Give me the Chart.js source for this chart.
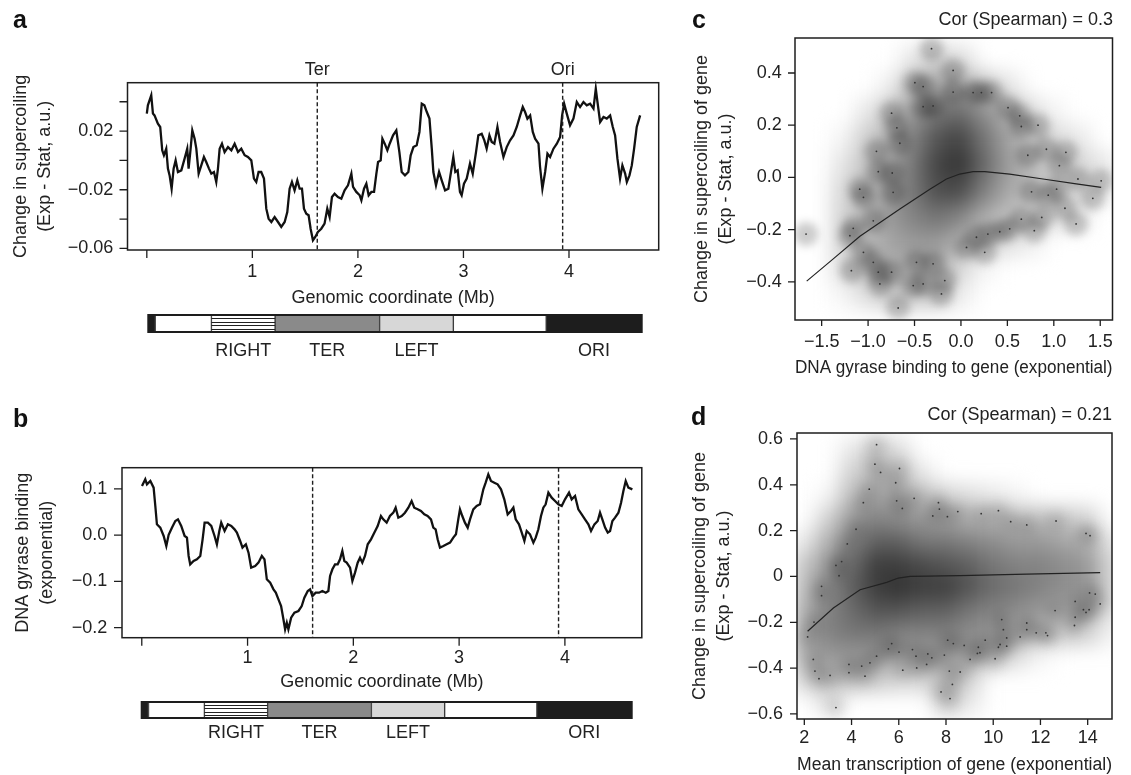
<!DOCTYPE html>
<html><head><meta charset="utf-8">
<script src="https://cdn.jsdelivr.net/npm/chart.js@4.4.1/dist/chart.umd.min.js"></script>
<style>
html,body{margin:0;padding:0;background:#fff;}
#fig{position:relative;width:1131px;height:775px;overflow:hidden;background:#fff;}
canvas{position:absolute;}
.pl{position:absolute;font:bold 25px 'Liberation Sans',Arial,sans-serif;line-height:25px;color:#111;}
</style></head><body>
<div id="fig">
<canvas id="cA" width="680" height="310" style="left:0;top:0"></canvas>
<canvas id="cAbar" width="510" height="70" style="left:140px;top:305px"></canvas>
<canvas id="cB" width="680" height="324" style="left:0;top:370px"></canvas>
<canvas id="cBbar" width="505" height="60" style="left:134px;top:692px"></canvas>
<canvas id="cC" width="451" height="380" style="left:680px;top:0"></canvas>
<canvas id="cD" width="451" height="387" style="left:680px;top:390px"></canvas>
<div class="pl" style="left:13px;top:7px">a</div>
<div class="pl" style="left:13px;top:406px">b</div>
<div class="pl" style="left:692px;top:7px">c</div>
<div class="pl" style="left:691px;top:404px">d</div>
</div>
<script>
// ---------------- DATA ----------------
// Panel a: change in supercoiling along the genome (Mb, value)
const aPos = [0.000,0.010,0.042,0.058,0.073,0.105,0.127,0.146,0.162,0.184,0.200,0.216,0.235,0.254,0.273,0.295,0.327,0.358,0.383,0.396,0.415,0.431,0.453,0.469,0.491,0.516,0.541,0.563,0.589,0.611,0.636,0.658,0.674,0.690,0.712,0.737,0.769,0.801,0.832,0.864,0.895,0.927,0.958,0.990,1.015,1.037,1.059,1.084,1.110,1.132,1.154,1.180,1.211,1.243,1.274,1.306,1.331,1.353,1.375,1.400,1.426,1.448,1.470,1.489,1.511,1.533,1.552,1.574,1.596,1.621,1.653,1.684,1.710,1.732,1.754,1.779,1.811,1.843,1.874,1.906,1.938,1.954,1.985,2.017,2.033,2.058,2.080,2.102,2.128,2.153,2.175,2.191,2.216,2.232,2.254,2.279,2.301,2.333,2.364,2.393,2.415,2.446,2.478,2.500,2.526,2.557,2.583,2.605,2.630,2.653,2.678,2.700,2.715,2.740,2.769,2.794,2.826,2.857,2.882,2.904,2.923,2.945,2.967,2.983,3.005,3.031,3.062,3.088,3.119,3.141,3.173,3.198,3.220,3.246,3.268,3.293,3.322,3.347,3.379,3.410,3.442,3.474,3.505,3.537,3.562,3.584,3.606,3.632,3.657,3.679,3.711,3.726,3.748,3.774,3.796,3.821,3.853,3.885,3.916,3.935,3.954,3.979,4.010,4.042,4.074,4.105,4.137,4.168,4.200,4.232,4.254,4.270,4.295,4.327,4.358,4.390,4.415,4.437,4.459,4.484,4.506,4.532,4.548,4.573,4.595,4.617,4.642,4.674];
const aVal = [0.0319,0.0376,0.0444,0.0319,0.0307,0.0251,0.0228,0.0069,0.0035,0.0080,-0.0056,-0.0102,-0.0193,-0.0056,0.0000,-0.0079,-0.0068,0.0012,0.0080,-0.0056,0.0080,0.0205,0.0148,0.0080,-0.0090,-0.0034,0.0023,-0.0011,-0.0056,-0.0090,-0.0079,-0.0147,-0.0056,0.0080,0.0114,0.0057,0.0091,0.0069,0.0114,0.0057,0.0080,0.0035,0.0023,0.0000,-0.0124,-0.0147,-0.0079,-0.0079,-0.0124,-0.0329,-0.0397,-0.0420,-0.0386,-0.0420,-0.0454,-0.0420,-0.0352,-0.0193,-0.0147,-0.0204,-0.0136,-0.0193,-0.0193,-0.0329,-0.0363,-0.0374,-0.0466,-0.0545,-0.0522,-0.0488,-0.0466,-0.0431,-0.0329,-0.0386,-0.0250,-0.0227,-0.0250,-0.0261,-0.0204,-0.0170,-0.0090,-0.0181,-0.0215,-0.0238,-0.0272,-0.0193,-0.0159,-0.0238,-0.0215,-0.0215,-0.0090,-0.0011,0.0000,0.0148,0.0114,0.0069,0.0114,0.0171,0.0205,0.0057,-0.0079,-0.0102,-0.0079,0.0035,0.0091,0.0103,0.0194,0.0387,0.0376,0.0330,0.0285,0.0080,-0.0079,-0.0170,-0.0079,-0.0136,-0.0204,-0.0193,-0.0079,0.0023,-0.0079,-0.0068,-0.0215,-0.0238,-0.0159,-0.0124,-0.0022,-0.0090,0.0057,0.0171,0.0182,0.0137,0.0080,0.0171,0.0126,0.0114,0.0228,0.0126,0.0023,0.0091,0.0137,0.0171,0.0228,0.0307,0.0364,0.0330,0.0285,0.0307,0.0194,0.0148,0.0114,-0.0045,-0.0193,-0.0079,0.0046,0.0023,0.0080,0.0114,0.0160,0.0307,0.0387,0.0319,0.0239,0.0285,0.0398,0.0364,0.0398,0.0376,0.0387,0.0353,0.0489,0.0398,0.0262,0.0296,0.0285,0.0307,0.0228,0.0171,0.0012,-0.0124,-0.0034,-0.0090,-0.0147,-0.0102,-0.0034,0.0080,0.0228,0.0307];
// Panel b: DNA gyrase binding along the genome (Mb, value)
const bPos = [0.002,0.033,0.049,0.081,0.112,0.128,0.143,0.175,0.207,0.232,0.254,0.285,0.317,0.342,0.373,0.405,0.427,0.443,0.458,0.490,0.521,0.553,0.575,0.594,0.625,0.657,0.688,0.710,0.733,0.751,0.783,0.814,0.846,0.877,0.899,0.930,0.952,0.984,1.009,1.034,1.072,1.103,1.135,1.160,1.182,1.214,1.245,1.267,1.292,1.317,1.339,1.355,1.371,1.386,1.412,1.443,1.481,1.512,1.537,1.569,1.591,1.613,1.644,1.676,1.707,1.739,1.764,1.780,1.802,1.827,1.852,1.874,1.896,1.915,1.937,1.969,1.991,2.016,2.041,2.063,2.085,2.110,2.136,2.167,2.198,2.230,2.261,2.283,2.315,2.346,2.378,2.400,2.425,2.457,2.488,2.520,2.551,2.576,2.608,2.639,2.671,2.702,2.734,2.756,2.778,2.797,2.819,2.851,2.882,2.914,2.945,2.970,2.992,3.008,3.030,3.055,3.081,3.103,3.134,3.166,3.197,3.229,3.251,3.276,3.301,3.333,3.364,3.396,3.427,3.459,3.490,3.513,3.535,3.566,3.592,3.617,3.639,3.670,3.702,3.724,3.749,3.774,3.796,3.818,3.844,3.875,3.907,3.938,3.970,4.001,4.039,4.064,4.096,4.127,4.159,4.190,4.222,4.247,4.279,4.310,4.332,4.354,4.380,4.405,4.427,4.449,4.474,4.506,4.531,4.553,4.575,4.600,4.638];
const bVal = [0.1064,0.1208,0.1100,0.1172,0.1028,0.0631,0.0234,0.0162,-0.0018,-0.0235,0.0006,0.0162,0.0306,0.0342,0.0198,-0.0018,-0.0054,-0.0451,-0.0632,-0.0560,-0.0524,-0.0451,-0.0090,0.0270,0.0270,0.0198,-0.0018,-0.0198,0.0090,0.0270,0.0090,0.0234,0.0198,0.0126,0.0054,-0.0126,-0.0270,-0.0198,-0.0379,-0.0704,-0.0668,-0.0596,-0.0451,-0.0524,-0.0956,-0.1028,-0.1173,-0.1245,-0.1390,-0.1534,-0.1822,-0.2039,-0.1895,-0.2039,-0.1786,-0.1678,-0.1642,-0.1534,-0.1354,-0.1209,-0.1173,-0.1318,-0.1245,-0.1245,-0.1209,-0.1245,-0.1209,-0.0884,-0.0740,-0.0632,-0.0632,-0.0524,-0.0343,-0.0560,-0.0596,-0.0704,-0.0992,-0.0812,-0.0596,-0.0487,-0.0596,-0.0451,-0.0198,-0.0090,0.0054,0.0198,0.0414,0.0342,0.0270,0.0414,0.0486,0.0595,0.0378,0.0414,0.0486,0.0595,0.0739,0.0595,0.0559,0.0522,0.0450,0.0414,0.0342,0.0162,0.0126,-0.0090,-0.0270,-0.0235,-0.0198,-0.0162,-0.0054,0.0018,0.0342,0.0559,0.0414,0.0270,0.0162,0.0342,0.0559,0.0631,0.0667,0.0992,0.1136,0.1316,0.1172,0.1136,0.1100,0.0992,0.0775,0.0450,0.0522,0.0595,0.0342,0.0234,0.0054,-0.0126,0.0090,0.0018,-0.0162,-0.0054,0.0126,0.0414,0.0595,0.0667,0.0919,0.0811,0.0739,0.0667,0.0631,0.0775,0.0919,0.0775,0.0847,0.0559,0.0450,0.0342,0.0234,0.0090,0.0234,0.0306,0.0486,0.0342,0.0162,0.0054,0.0090,0.0306,0.0378,0.0486,0.0703,0.0955,0.1172,0.1028,0.0992];
// Ter / Ori positions (Mb)
const markPos = [1.615, 3.94];
const markLabels = ['Ter', 'Ori'];
// Macrodomain map (segment lengths, Mb) and labels
const domainLengths = [0.065, 0.53, 0.60, 0.985, 0.695, 0.875, 0.90];
const domainLabels = ['', '', 'RIGHT', 'TER', 'LEFT', '', 'ORI'];
// Axis ticks
const abXTicks = [0, 1, 2, 3, 4];
const abXLabels = ['', '1', '2', '3', '4'];
const aYTicks = [-0.06, -0.04, -0.02, 0, 0.02, 0.04];
const aYLabels = ['\u22120.06', '', '\u22120.02', '', '0.02', ''];
const bYTicks = [-0.2, -0.1, 0, 0.1];
const bYLabels = ['\u22120.2', '\u22120.1', '0.0', '0.1'];
const cXTicks = [-1.5, -1, -0.5, 0, 0.5, 1, 1.5];
const cXLabels = ['\u22121.5', '\u22121.0', '\u22120.5', '0.0', '0.5', '1.0', '1.5'];
const cYTicks = [-0.4, -0.2, 0, 0.2, 0.4];
const cYLabels = ['\u22120.4', '\u22120.2', '0.0', '0.2', '0.4'];
const dXTicks = [2, 4, 6, 8, 10, 12, 14];
const dXLabels = ['2', '4', '6', '8', '10', '12', '14'];
const dYTicks = [-0.6, -0.4, -0.2, 0, 0.2, 0.4, 0.6];
const dYLabels = ['\u22120.6', '\u22120.4', '\u22120.2', '0', '0.2', '0.4', '0.6'];
// Panel c: smoothed gene density (grid), outlying genes and lowess fit
const cGridX = [-1.5, -1.25, -1.0, -0.75, -0.5, -0.25, 0, 0.25, 0.5, 0.75, 1.0, 1.25, 1.5];
const cGridY = [0.45, 0.35, 0.25, 0.15, 0.05, -0.05, -0.15, -0.25, -0.35, -0.45];
const cDensity = [
  [0,0,0,0,0.12,0.22,0.15,0,0,0,0,0,0],
  [0,0,0,0.08,0.30,0.40,0.38,0.28,0.12,0,0,0,0],
  [0,0,0.10,0.25,0.45,0.60,0.65,0.50,0.35,0.18,0.05,0,0],
  [0,0.05,0.22,0.35,0.55,0.75,0.82,0.62,0.42,0.28,0.18,0.10,0],
  [0,0.12,0.28,0.40,0.60,0.82,0.90,0.68,0.45,0.32,0.22,0.20,0.12],
  [0,0.18,0.30,0.45,0.60,0.78,0.80,0.58,0.40,0.30,0.22,0.18,0.10],
  [0,0.20,0.32,0.45,0.55,0.62,0.55,0.38,0.28,0.22,0.18,0.10,0],
  [0,0.20,0.30,0.40,0.45,0.45,0.35,0.22,0.15,0.08,0,0,0],
  [0,0.15,0.30,0.35,0.35,0.35,0.18,0.05,0,0,0,0,0],
  [0,0.05,0.15,0.25,0.25,0.25,0.08,0,0,0,0,0,0]
];
const cOutliers = [[-0.317,0.493],[-0.084,0.410],[-0.496,0.363],[-0.407,0.348],[-0.084,0.327],[0.131,0.325],[0.22,0.325],[0.33,0.325],[-0.747,0.246],[-0.407,0.271],[-0.30,0.274],[0.507,0.267],[0.633,0.236],[0.65,0.195],[0.83,0.20],[-0.69,0.19],[-0.91,0.10],[-0.658,0.131],[0.92,0.108],[1.13,0.096],[1.06,0.045],[0.72,0.085],[-0.89,0.022],[-0.74,0.017],[-1.09,-0.045],[1.26,-0.006],[1.51,-0.013],[0.76,-0.055],[0.94,-0.068],[1.03,-0.045],[1.42,-0.08],[1.12,-0.118],[0.87,-0.153],[0.65,-0.16],[1.24,-0.178],[0.79,-0.204],[0.525,-0.197],[0.418,-0.208],[0.29,-0.217],[0.167,-0.229],[0.256,-0.287],[0.06,-0.268],[-1.668,-0.217],[-1.196,-0.223],[-1.18,-0.357],[-1.05,-0.287],[-0.944,-0.325],[-0.89,-0.363],[-0.873,-0.408],[-0.747,-0.363],[-0.479,-0.325],[-0.30,-0.331],[-0.407,-0.408],[-0.514,-0.414],[-0.21,-0.446],[-0.676,-0.5],[-0.174,-0.395],[-1.05,-0.076],[-0.73,-0.057],[-0.944,-0.166],[-1.16,-0.195]];
const cLowX = [-1.661,-1.375,-1.088,-0.658,-0.335,-0.156,-0.013,0.131,0.256,0.525,0.884,1.242,1.51];
const cLowY = [-0.397,-0.312,-0.225,-0.121,-0.045,-0.006,0.013,0.022,0.022,0.013,-0.006,-0.025,-0.038];
// Panel d
const dGridX = [2,3,4,5,6,7,8,9,10,11,12,13,14,15];
const dGridY = [0.55,0.45,0.35,0.25,0.15,0.05,-0.05,-0.15,-0.25,-0.35,-0.45,-0.55];
const dDensity = [
  [0,0,0.10,0.25,0.15,0,0,0,0,0,0,0,0,0],
  [0,0,0.20,0.30,0.30,0.10,0,0,0,0,0,0,0,0],
  [0,0.05,0.30,0.40,0.40,0.30,0.20,0.15,0.10,0.05,0,0,0,0],
  [0,0.20,0.45,0.55,0.50,0.45,0.40,0.35,0.35,0.30,0.30,0.25,0.20,0],
  [0.10,0.35,0.55,0.70,0.70,0.60,0.60,0.55,0.50,0.45,0.45,0.40,0.35,0.12],
  [0.25,0.45,0.65,0.85,0.85,0.80,0.75,0.70,0.60,0.55,0.55,0.50,0.45,0.18],
  [0.30,0.50,0.70,0.85,0.90,0.85,0.85,0.75,0.65,0.60,0.55,0.50,0.45,0.18],
  [0.35,0.55,0.65,0.75,0.75,0.70,0.70,0.60,0.55,0.50,0.45,0.40,0.35,0.12],
  [0.40,0.55,0.60,0.60,0.55,0.55,0.55,0.50,0.45,0.35,0.30,0.25,0.20,0.05],
  [0.35,0.45,0.45,0.45,0.40,0.40,0.40,0.35,0.30,0.15,0.05,0,0,0],
  [0.20,0.30,0.30,0.25,0.20,0.20,0.30,0.20,0,0,0,0,0,0],
  [0,0.15,0,0,0,0,0.25,0.10,0,0,0,0,0,0]
];
const dOutliers = [[5.06,0.575],[4.99,0.49],[5.23,0.454],[6.03,0.471],[5.87,0.409],[4.75,0.381],[4.5,0.322],[5.91,0.33],[6.15,0.297],[6.65,0.341],[7.68,0.322],[7.72,0.294],[7.44,0.264],[8.06,0.261],[8.5,0.283],[9.49,0.274],[10.22,0.287],[10.74,0.239],[11.42,0.225],[12.66,0.242],[13.93,0.188],[14.1,0.178],[4.19,0.206],[3.82,0.142],[3.58,0.065],[3.34,0.048],[3.47,0.003],[2.73,-0.043],[2.73,-0.084],[2.41,-0.199],[2.14,-0.264],[2.38,-0.362],[2.45,-0.413],[2.62,-0.446],[3.09,-0.432],[3.89,-0.384],[3.89,-0.42],[4.43,-0.391],[4.57,-0.435],[4.78,-0.377],[5.06,-0.348],[5.56,-0.316],[5.7,-0.293],[6.01,-0.33],[6.17,-0.409],[6.58,-0.319],[6.73,-0.348],[6.76,-0.399],[7.18,-0.384],[7.23,-0.338],[7.4,-0.355],[7.93,-0.343],[7.79,-0.504],[8.17,-0.533],[8.27,-0.471],[8.14,-0.413],[8.6,-0.417],[8.07,-0.278],[8.31,-0.293],[8.77,-0.301],[9.02,-0.362],[9.33,-0.336],[9.37,-0.309],[9.44,-0.333],[9.66,-0.278],[10.08,-0.359],[10.22,-0.309],[10.29,-0.297],[10.57,-0.304],[10.36,-0.188],[10.43,-0.232],[10.57,-0.268],[11.14,-0.264],[11.42,-0.203],[11.42,-0.232],[11.82,-0.246],[12.23,-0.246],[12.3,-0.258],[12.62,-0.149],[13.47,-0.109],[13.47,-0.178],[13.44,-0.214],[13.82,-0.145],[13.93,-0.157],[14.08,-0.072],[14.32,-0.077],[14.53,-0.12],[14.06,-0.145],[3.34,-0.572]];
const dLowX = [2.14,3.23,4.36,5.49,5.98,6.48,8.6,11.42,14.53];
const dLowY = [-0.239,-0.138,-0.058,-0.026,-0.007,0.0,0.004,0.01,0.017];

// ---------------- STYLE / HELPERS ----------------
const FONT = "'Liberation Sans', Arial, Helvetica, sans-serif";
Chart.defaults.font.family = FONT;
Chart.defaults.font.size = 18;
Chart.defaults.color = '#222';
Chart.defaults.animation = false;
Chart.defaults.plugins.legend.display = false;
Chart.defaults.plugins.tooltip.enabled = false;

const pts = (xs, ys) => xs.map((x, i) => ({x: x, y: ys[i]}));

function axis(o) {
  return {
    type: 'linear', position: o.pos, min: o.min, max: o.max,
    grid: {display: false, drawTicks: false}, border: {display: false},
    afterBuildTicks: s => { s.ticks = o.ticks.map(v => ({value: v})); },
    afterFit: s => { if (o.pos === 'left') s.width = o.size; else s.height = o.size; },
    ticks: {autoSkip: false, maxRotation: 0, minRotation: 0, padding: o.pad,
            callback: (v, i) => o.labels[i], font: {size: 18}, color: '#222'},
    title: {display: true, text: o.title, color: '#222',
            padding: o.pos === 'left' ? {top: o.tpad, bottom: 0} : {top: 0, bottom: o.tpad},
            font: {size: 18, lineHeight: 1.333}}
  };
}

// R-like frame: box, outward tick marks, optional dashed markers
const rFrame = {
  id: 'rframe',
  afterDraw(chart, args, o) {
    const {ctx, chartArea: ca, scales} = chart;
    ctx.save();
    ctx.strokeStyle = '#1e1e1e';
    ctx.lineWidth = 1.5;
    ctx.strokeRect(ca.left, ca.top, ca.right - ca.left, ca.bottom - ca.top);
    ctx.lineWidth = 1.3;
    ctx.beginPath();
    scales.x.ticks.forEach(t => {
      const px = scales.x.getPixelForValue(t.value);
      ctx.moveTo(px, ca.bottom); ctx.lineTo(px, ca.bottom + o.tlx);
    });
    scales.y.ticks.forEach(t => {
      const py = scales.y.getPixelForValue(t.value);
      ctx.moveTo(ca.left, py); ctx.lineTo(ca.left - o.tly, py);
    });
    ctx.stroke();
    if (o.marks) {
      ctx.setLineDash([4, 2.5]);
      ctx.lineWidth = 1.4;
      o.marks.forEach((m, i) => {
        const px = scales.x.getPixelForValue(m);
        ctx.beginPath(); ctx.moveTo(px, ca.top); ctx.lineTo(px, ca.bottom); ctx.stroke();
        if (o.markLabels) {
          ctx.fillStyle = '#222';
          ctx.font = '18px ' + FONT;
          ctx.textAlign = 'center'; ctx.textBaseline = 'middle';
          ctx.fillText(o.markLabels[i], px, ca.top - 12.5);
        }
      });
    }
    ctx.restore();
  }
};

// Draw a dataset's own elements on an offscreen layer, then blur the whole layer at once
const layerBlur = {
  id: 'layerblur',
  beforeDatasetDraw(chart, args) {
    const ds = chart.data.datasets[args.index];
    if (!ds.blurPx) return;
    const {ctx, chartArea: ca, canvas} = chart;
    const off = document.createElement('canvas');
    off.width = canvas.width; off.height = canvas.height;
    const octx = off.getContext('2d');
    args.meta.data.forEach(el => el.draw(octx));
    ctx.save();
    ctx.beginPath(); ctx.rect(ca.left, ca.top, ca.right - ca.left, ca.bottom - ca.top); ctx.clip();
    ctx.filter = 'blur(' + ds.blurPx + 'px)';
    ctx.drawImage(off, 0, 0);
    ctx.restore();
    return false;
  }
};

// ---------------- PANELS a, b ----------------
function genomeChart(id, pos, val, o) {
  return new Chart(document.getElementById(id), {
    type: 'scatter',
    data: {datasets: [{data: pts(pos, val), showLine: true, borderColor: '#111', borderWidth: 2.3,
                       pointRadius: 0, tension: 0, clip: 2}]},
    options: {
      responsive: false,
      layout: {padding: o.padding},
      scales: {
        x: axis({pos: 'bottom', min: o.xmin, max: o.xmax, ticks: abXTicks, labels: abXLabels,
                 size: o.xsize, pad: o.xpad, title: 'Genomic coordinate (Mb)', tpad: 0}),
        y: axis({pos: 'left', min: o.ymin, max: o.ymax, ticks: o.yticks, labels: o.ylabels,
                 size: o.ysize, pad: o.ypad, title: o.ytitle, tpad: o.ytpad})
      },
      plugins: {rframe: {tlx: 8, tly: 8, marks: markPos, markLabels: o.markLabels}}
    },
    plugins: [rFrame]
  });
}

genomeChart('cA', aPos, aVal, {
  padding: {left: 0, top: 82.7, right: 21.3, bottom: 0},
  xmin: -0.183, xmax: 4.85, xsize: 60, xpad: 11.2,
  ymin: -0.0611, ymax: 0.053, ysize: 127.5, ypad: 14.2,
  yticks: aYTicks, ylabels: aYLabels,
  ytitle: ['Change in supercoiling', '(Exp - Stat, a.u.)'], ytpad: 9,
  markLabels: markLabels
});
genomeChart('cB', bPos, bVal, {
  padding: {left: 0, top: 97.7, right: 38.2, bottom: 0},
  xmin: -0.187, xmax: 4.727, xsize: 56.3, xpad: 9.8,
  ymin: -0.222, ymax: 0.146, ysize: 122, ypad: 14.7,
  yticks: bYTicks, ylabels: bYLabels,
  ytitle: ['DNA gyrase binding', '(exponential)'], ytpad: 11,
  markLabels: null
});

// ---------------- DOMAIN BARS ----------------
const domainFill = ['#1d1d1d', '#ffffff', '#ffffff', '#8a8a8a', '#d7d7d7', '#ffffff', '#1d1d1d'];
const domainStripe = [false, false, true, false, false, false, false];
const domainPlugin = {
  id: 'domainlabels',
  afterDatasetsDraw(chart, args, o) {
    const {ctx, chartArea: ca} = chart;
    ctx.save();
    chart.data.datasets.forEach((ds, i) => {
      const el = chart.getDatasetMeta(i).data[0];
      const x0 = Math.min(el.x, el.base), x1 = Math.max(el.x, el.base);
      if (domainStripe[i]) {
        ctx.strokeStyle = '#222'; ctx.lineWidth = 1;
        ctx.beginPath();
        for (let k = 1; k <= 4; k++) {
          const yy = Math.round(ca.top + (ca.bottom - ca.top) * k / 5) + 0.5;
          ctx.moveTo(x0, yy); ctx.lineTo(x1, yy);
        }
        ctx.stroke();
      }
      if (domainLabels[i]) {
        ctx.fillStyle = '#222';
        ctx.font = '18px ' + FONT;
        ctx.textAlign = 'center'; ctx.textBaseline = 'middle';
        ctx.fillText(domainLabels[i], (x0 + x1) / 2, ca.bottom + o.off);
      }
    });
    ctx.strokeStyle = '#1d1d1d'; ctx.lineWidth = 2;
    ctx.strokeRect(ca.left, ca.top, ca.right - ca.left, ca.bottom - ca.top);
    ctx.restore();
  }
};
function domainChart(id, padding, off) {
  const total = domainLengths.reduce((a, b) => a + b, 0);
  return new Chart(document.getElementById(id), {
    type: 'bar',
    data: {labels: ['genome'], datasets: domainLengths.map((v, i) => ({
      data: [v], backgroundColor: domainFill[i], borderColor: '#3a3a3a',
      borderWidth: {top: 0, bottom: 0, left: 1, right: 1}, borderSkipped: false,
      barPercentage: 1, categoryPercentage: 1
    }))},
    options: {
      responsive: false, indexAxis: 'y',
      layout: {padding: padding},
      scales: {x: {stacked: true, display: false, min: 0, max: total},
               y: {stacked: true, display: false}},
      plugins: {domainlabels: {off: off}}
    },
    plugins: [domainPlugin]
  });
}
domainChart('cAbar', {left: 8.3, right: 8.3, top: 10, bottom: 43}, 19.5);
domainChart('cBbar', {left: 7.7, right: 7.3, top: 10, bottom: 34}, 15);

// ---------------- PANELS c, d ----------------
function densityPoints(gx, gy, dens) {
  const p = [], col = [];
  gy.forEach((y, r) => gx.forEach((x, c) => {
    const v = dens[r][c];
    if (v > 0) {
      const g = Math.round(255 - v * 228);
      p.push({x: x, y: y}); col.push('rgb(' + g + ',' + g + ',' + g + ')');
    }
  }));
  return {p, col};
}
function geneChart(id, o) {
  const d = densityPoints(o.gx, o.gy, o.dens);
  const out = o.outliers.map(q => ({x: q[0], y: q[1]}));
  return new Chart(document.getElementById(id), {
    type: 'scatter',
    data: {datasets: [
      {data: pts(o.lowX, o.lowY), showLine: true, borderColor: '#222', borderWidth: 1.2, pointRadius: 0, tension: 0},
      {data: out, pointRadius: 0.9, backgroundColor: '#333', borderWidth: 0},
      {data: out, pointRadius: o.blobR, backgroundColor: o.blobC, borderWidth: 0, blurPx: o.blobBlur},
      {data: d.p, pointStyle: 'rect', pointRadius: o.cellR, backgroundColor: d.col, borderWidth: 0, blurPx: o.blur}
    ]},
    options: {
      responsive: false,
      layout: {padding: o.padding},
      scales: {
        x: axis({pos: 'bottom', min: o.xmin, max: o.xmax, ticks: o.xticks, labels: o.xlabels,
                 size: o.xsize, pad: o.xpad, title: o.xtitle, tpad: 0}),
        y: axis({pos: 'left', min: o.ymin, max: o.ymax, ticks: o.yticks, labels: o.ylabels,
                 size: o.ysize, pad: o.ypad, title: ['Change in supercoiling of gene', '(Exp - Stat, a.u.)'], tpad: o.ytpad})
      },
      plugins: {
        title: {display: true, text: o.cor, align: 'end', color: '#222', font: {size: 18, weight: 'normal', lineHeight: 1.2}, padding: o.titlePad},
        rframe: {tlx: 6, tly: 7}
      }
    },
    plugins: [rFrame, layerBlur]
  });
}
geneChart('cC', {
  gx: cGridX, gy: cGridY, dens: cDensity, outliers: cOutliers, lowX: cLowX, lowY: cLowY,
  cellR: 18.5, blur: 10, blobR: 12, blobC: 'rgba(0,0,0,0.2)', blobBlur: 4,
  padding: {left: 0, top: 0, right: 18, bottom: 0},
  xmin: -1.787, xmax: 1.632, xticks: cXTicks, xlabels: cXLabels, xsize: 60, xpad: 10.9,
  xtitle: 'DNA gyrase binding to gene (exponential)',
  ymin: -0.546, ymax: 0.534, yticks: cYTicks, ylabels: cYLabels, ysize: 115, ypad: 13.3, ytpad: 10,
  cor: 'Cor (Spearman) = 0.3', titlePad: {top: 9, bottom: 7.4}
});
geneChart('cD', {
  gx: dGridX, gy: dGridY, dens: dDensity, outliers: dOutliers, lowX: dLowX, lowY: dLowY,
  cellR: 16.7, blur: 10, blobR: 10, blobC: 'rgba(0,0,0,0.10)', blobBlur: 6,
  padding: {left: 0, top: 0, right: 19, bottom: 0},
  xmin: 1.69, xmax: 15.03, xticks: dXTicks, xlabels: dXLabels, xsize: 58, xpad: 8.2,
  xtitle: 'Mean transcription of gene (exponential)',
  ymin: -0.622, ymax: 0.626, yticks: dYTicks, ylabels: dYLabels, ysize: 117, ypad: 14, ytpad: 8.5,
  cor: 'Cor (Spearman) = 0.21', titlePad: {top: 14.2, bottom: 7.2}
});
</script>
</body></html>
